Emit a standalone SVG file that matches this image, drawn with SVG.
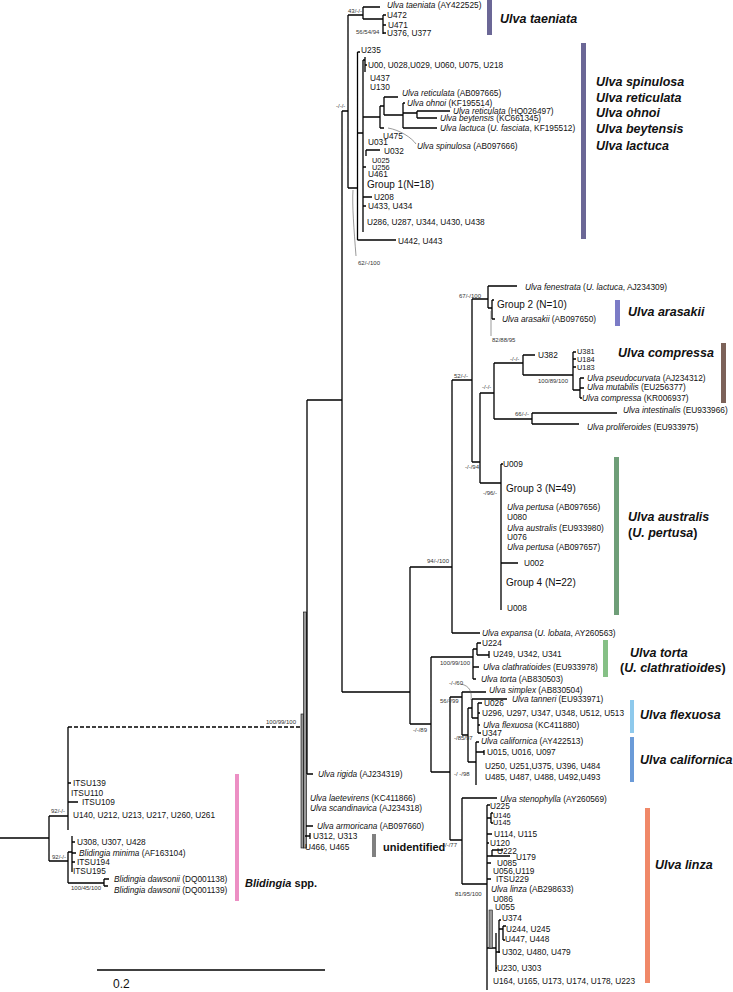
<svg xmlns="http://www.w3.org/2000/svg" width="733" height="992" viewBox="0 0 733 992">
<style>
text{font-family:"Liberation Sans",Arial,sans-serif;font-size:8.3px;fill:#111}
.i{font-style:italic}
.s{font-size:6px;fill:#333}
.t{font-size:7.4px}
.g{font-size:10px}
.b{font-size:12.5px;font-weight:bold;font-style:italic;fill:#111}
.bn{font-size:11px;font-weight:bold;fill:#111}
.sc{font-size:12px}
.br{stroke:#000;stroke-width:1.3;fill:none}
.ld{stroke:#555;stroke-width:0.6;fill:none}
.dash{stroke:#000;stroke-width:1.3;fill:none;stroke-dasharray:4 2}
</style>
<rect width="733" height="992" fill="#fff"/>
<g id="connectors">
<path class="br" d="M0,838H49M49,816V861M49,816H68M68,727V830M68,783H71M68,802H78M49,861H68M68,852V883M68,852H72M72,836V872M72,842H75M72,853H76M72,862H75M68,883H104M104,879V886M104,879H109M104,886H108"/>
<path class="dash" d="M68,727H301"/>
<rect x="303.5" y="612" width="3" height="236" fill="#999" stroke="#000" stroke-width="0.6"/>
<rect x="301" y="714" width="2.5" height="134" fill="#999" stroke="#000" stroke-width="0.6"/>
<path class="br" d="M307,400V774M307,774H313M307,400H342M306,826H313M305,836H310M310,833V839"/>
<path class="br" d="M342,111V692M342,111H348M348,15V188M348,15H363M363,7V19M363,7H380M363,19H383M383,15V34M383,15H386M383,25H386M383,33H386M348,188H357.5M357.5,52V240M357.5,52H360M357.5,240H396M357.5,133H363M363,60V232M363,60H365M365,57V72M365,65H367M363,117H380M380,106V128M380,106H384M384,97V115M384,97H398M384,115H403M403,103V128M403,103H405M403,113H417M417,111V118M417,111H450M417,118H437M403,128H437M380,128H384M366,150H380M366,150V156M363,167H366M363,197H372M363,206H366"/>
<path class="ld" d="M388,128C400,130 412,138 416,144M356,256C354,230 352,205 353,190"/>
<path class="br" d="M342,692H410M410,567V724M410,567H452M452,380V633M452,633H480M452,380H472M472,299V462M472,299H488M488,286V308M488,286H517M488,308H492M492,300V319M492,300H494M492,319H495M472,462H480M480,393V483M480,393H494M494,363V419M494,363H523M523,355V375M523,355H535M523,375H573M573,352V390M573,352H576M573,359H576M573,367H576M573,390H580M580,378V398M580,378H584M580,388H584M580,398H582M494,419H532M532,413V424M532,413H617M532,424H579M480,483H501M501,464V610M501,464H503M501,563H518"/>
<path class="ld" d="M491,336V311"/>
<path class="br" d="M410,724H431M431,657V772M431,657H473M473,649V679M473,649H477M477,643V655M477,643H481M477,655H489M489,651V658M473,667H479M473,679H476M431,772H450M450,697V840M450,697H462M462,692V735M462,692H486M462,735H468M468,708V762M468,708H472M472,699V718M472,699H507M472,718H478M478,703V733M478,703H482M478,713H480M478,725H480M478,733H481M468,762H476M476,742V785M476,742H479M476,752H484M484,750V755"/>
<path class="ld" d="M461,684C470,686 472,692 471,700"/>
<path class="br" d="M450,840H462M462,798V884M462,798H497M462,884H487M487,805V990M487,805H490M487,818H491M491,813V823M491,813H493M491,823H493M487,834H492M487,843H489M487,856H510M492,850V856M492,850H503M487,863H491M487,879H491M487,948H496M496,933V972M499,920V953M499,920H501M499,929H503M503,926V940M503,926H506M503,940H505M496,952H500M496,968H497"/>
<rect x="489" y="910" width="3.5" height="38" fill="#999" stroke="#000" stroke-width="0.5"/>
<path class="br" d="M97,970H325"/>
</g>
<g id="taeniata">
<text x="387" y="8"><tspan class="i">Ulva taeniata</tspan> (AY422525)</text>
<text x="387" y="18">U472</text>
<text x="388" y="28">U471</text>
<text x="387" y="36">U376, U377</text>
<text class="s" x="348" y="13">43/-/-</text>
<text class="s" x="356" y="34">56/54/94</text>
<rect x="487" y="0" width="5" height="35" fill="#6b6796"/>
<text class="b" x="500" y="23">Ulva taeniata</text>
</g>
<g id="spinulosa">
<text class="s" x="336" y="108">-/-/-</text>
<text x="361" y="53">U235</text>
<text x="368" y="68">U00, U028,U029, U060, U075, U218</text>
<text x="370" y="81">U437</text>
<text x="370" y="90">U130</text>
<text x="402" y="96"><tspan class="i">Ulva reticulata</tspan> (AB097665)</text>
<text x="407" y="106"><tspan class="i">Ulva ohnoi</tspan> (KF195514)</text>
<text x="453" y="114"><tspan class="i">Ulva reticulata</tspan> (HQ026497)</text>
<text x="440" y="121"><tspan class="i">Ulva beytensis</tspan> (KC661345)</text>
<text x="440" y="131"><tspan class="i">Ulva lactuca</tspan> (<tspan class="i">U. fasciata</tspan>, KF195512)</text>
<text x="383" y="139">U475</text>
<text x="368" y="145">U031</text>
<text x="417" y="149"><tspan class="i">Ulva spinulosa</tspan> (AB097666)</text>
<text x="384" y="154">U032</text>
<text class="t" x="372" y="162.5">U025</text>
<text class="t" x="372" y="169.5">U256</text>
<text x="368" y="177">U461</text>
<text class="g" x="367" y="188">Group 1(N=18)</text>
<text x="374" y="200">U208</text>
<text x="368" y="209">U433, U434</text>
<text x="367" y="225">U286, U287, U344, U430, U438</text>
<text x="398" y="244">U442, U443</text>
<text class="s" x="358" y="265">62/-/100</text>
<rect x="581" y="43" width="5" height="196" fill="#6b6796"/>
<text class="b" x="596" y="86">Ulva spinulosa</text>
<text class="b" x="596" y="102">Ulva reticulata</text>
<text class="b" x="596" y="117">Ulva ohnoi</text>
<text class="b" x="596" y="133">Ulva beytensis</text>
<text class="b" x="596" y="150">Ulva lactuca</text>
</g>
<g id="arasakii">
<text x="525" y="290"><tspan class="i">Ulva fenestrata</tspan> (<tspan class="i">U. lactuca</tspan>, AJ234309)</text>
<text class="s" x="459" y="298">67/-/100</text>
<text class="g" x="497" y="308">Group 2 (N=10)</text>
<text x="502" y="322"><tspan class="i">Ulva arasakii</tspan> (AB097650)</text>
<text class="s" x="492" y="342">82/88/95</text>
<rect x="615" y="300" width="5" height="26" fill="#7b7bc6"/>
<text class="b" x="628" y="316">Ulva arasakii</text>
</g>
<g id="compressa">
<text class="s" x="454" y="378">52/-/-</text>
<text class="s" x="482" y="389">-/-/-</text>
<text class="s" x="510" y="361">-/-/-</text>
<text x="538" y="358">U382</text>
<text class="t" x="577" y="354">U381</text>
<text class="t" x="577" y="361.5">U184</text>
<text class="t" x="577" y="369.5">U183</text>
<text class="s" x="538" y="383">100/89/100</text>
<text x="587" y="381"><tspan class="i">Ulva pseudocurvata</tspan> (AJ234312)</text>
<text x="587" y="390"><tspan class="i">Ulva mutabilis</tspan>  (EU256377)</text>
<text x="582" y="401"><tspan class="i">Ulva compressa</tspan> (KR006937)</text>
<text class="s" x="515" y="416">66/-/-</text>
<text x="623" y="413"><tspan class="i">Ulva intestinalis</tspan> (EU933966)</text>
<text x="587" y="430"><tspan class="i">Ulva proliferoides</tspan> (EU933975)</text>
<rect x="721" y="343" width="5" height="60" fill="#7c6259"/>
<text class="b" x="618" y="357">Ulva compressa</text>
</g>
<g id="australis">
<text class="s" x="465" y="469">-/-/94</text>
<text x="503" y="467">U009</text>
<text class="s" x="483" y="495">-/96/-</text>
<text class="g" x="506" y="492">Group 3 (N=49)</text>
<text x="507" y="510"><tspan class="i">Ulva pertusa</tspan> (AB097656)</text>
<text x="507" y="520">U080</text>
<text x="507" y="531"><tspan class="i">Ulva australis</tspan> (EU933980)</text>
<text x="507" y="540">U076</text>
<text x="507" y="550"><tspan class="i">Ulva pertusa</tspan> (AB097657)</text>
<text class="s" x="427" y="563">94/-/100</text>
<text x="524" y="566">U002</text>
<text class="g" x="506" y="586">Group 4 (N=22)</text>
<text x="507" y="611">U008</text>
<text x="482" y="636"><tspan class="i">Ulva expansa</tspan> (<tspan class="i">U. lobata</tspan>, AY260563)</text>
<rect x="614" y="457" width="5" height="158" fill="#6f9e78"/>
<text class="b" x="628" y="521">Ulva australis</text>
<text class="b" x="628" y="537"><tspan font-style="normal">(</tspan>U. pertusa<tspan font-style="normal">)</tspan></text>
</g>
<g id="torta">
<text x="482" y="646">U224</text>
<text x="493" y="657">U249, U342, U341</text>
<text class="s" x="440" y="665">100/99/100</text>
<text x="483" y="670"><tspan class="i">Ulva clathratioides</tspan> (EU933978)</text>
<text x="481" y="682"><tspan class="i">Ulva torta</tspan> (AB830503)</text>
<rect x="603" y="640" width="5" height="37" fill="#86c086"/>
<text class="b" x="630" y="657">Ulva torta</text>
<text class="b" x="620" y="672"><tspan font-style="normal">(</tspan>U. clathratioides<tspan font-style="normal">)</tspan></text>
</g>
<g id="flexuosa">
<text class="s" x="449" y="685">-/-/60</text>
<text x="489" y="693"><tspan class="i">Ulva simplex</tspan> (AB830504)</text>
<text x="512" y="702"><tspan class="i">Ulva tanneri</tspan> (EU933971)</text>
<text class="s" x="440" y="703">56/-/99</text>
<text x="484" y="706">U026</text>
<text x="482" y="716">U296, U297, U347, U348, U512, U513</text>
<text x="483" y="728"><tspan class="i">Ulva flexuosa</tspan> (KC411880)</text>
<text class="s" x="413" y="732">-/-/89</text>
<text x="482" y="736">U347</text>
<rect x="630" y="700" width="4" height="33" fill="#8ec9ec"/>
<text class="b" x="640" y="719">Ulva flexuosa</text>
</g>
<g id="californica">
<text class="s" x="454" y="740">-/85/97</text>
<text x="481" y="744"><tspan class="i">Ulva californica</tspan> (AY422513)</text>
<text x="487" y="755">U015, U016, U097</text>
<text x="485" y="769">U250, U251,U375, U396, U484</text>
<text class="s" x="454" y="776">-/ -/98</text>
<text x="485" y="780">U485, U487, U488, U492,U493</text>
<rect x="630" y="737" width="4" height="45" fill="#6b9bd8"/>
<text class="b" x="640" y="764">Ulva californica</text>
</g>
<g id="linza">
<text x="500" y="802"><tspan class="i">Ulva stenophylla</tspan> (AY260569)</text>
<text x="490" y="809">U225</text>
<text class="t" x="493" y="817.5">U146</text>
<text class="t" x="493" y="824.5">U145</text>
<text x="494" y="837">U114, U115</text>
<text x="490" y="846">U120</text>
<text class="s" x="443" y="847">-/-/77</text>
<text x="497" y="854">U222</text>
<text x="516" y="860">U179</text>
<text x="497" y="866">U085</text>
<text x="493" y="874">U056,U119</text>
<text x="496" y="882">ITSU229</text>
<text x="491" y="892"><tspan class="i">Ulva linza</tspan> (AB298633)</text>
<text class="s" x="455" y="896">81/95/100</text>
<text x="493" y="902">U086</text>
<text x="495" y="910">U055</text>
<text x="502" y="921">U374</text>
<text x="506" y="932">U244, U245</text>
<text x="505" y="942">U447, U448</text>
<text x="502" y="955">U302, U480, U479</text>
<text x="497" y="971">U230, U303</text>
<text x="493" y="984">U164, U165, U173, U174, U178, U223</text>
<rect x="645" y="808" width="5" height="175" fill="#f08868"/>
<text class="b" x="655" y="869">Ulva linza</text>
</g>
<g id="basal-ulva">
<text class="s" x="266" y="724">100/99/100</text>
<text x="318" y="777"><tspan class="i">Ulva rigida</tspan> (AJ234319)</text>
<text x="310" y="801"><tspan class="i">Ulva laetevirens</tspan> (KC411866)</text>
<text x="310" y="811"><tspan class="i">Ulva scandinavica</tspan> (AJ234318)</text>
<text x="317" y="829"><tspan class="i">Ulva armoricana</tspan> (AB097660)</text>
<text x="313" y="839">U312, U313</text>
<text x="305" y="850">U466, U465</text>
</g>
<g id="unidentified">
<rect x="372" y="834" width="4" height="23" fill="#808080"/>
<text class="bn" x="383" y="851">unidentified</text>
</g>
<g id="blidingia">
<text x="73" y="786">ITSU139</text>
<text x="71" y="796">ITSU110</text>
<text x="82" y="805">ITSU109</text>
<text class="s" x="51" y="813">92/-/-</text>
<text x="73" y="818">U140, U212, U213, U217, U260, U261</text>
<text x="77" y="845">U308, U307, U428</text>
<text x="79" y="856"><tspan class="i">Blidingia minima</tspan> (AF163104)</text>
<text class="s" x="52" y="859">92/-/-</text>
<text x="77" y="865">ITSU194</text>
<text x="73" y="874">ITSU195</text>
<text x="114" y="882"><tspan class="i">Blidingia dawsonii</tspan> (DQ001138)</text>
<text class="s" x="71" y="890">100/45/100</text>
<text x="114" y="893"><tspan class="i">Blidingia dawsonii</tspan> (DQ001139)</text>
<rect x="235" y="774" width="4" height="127" fill="#ec8fc4"/>
<text class="bn" x="245" y="887"><tspan font-style="italic">Blidingia</tspan> spp.</text>
</g>
<g id="scale">
<text class="sc" x="113" y="988">0.2</text>
</g>
</svg>
